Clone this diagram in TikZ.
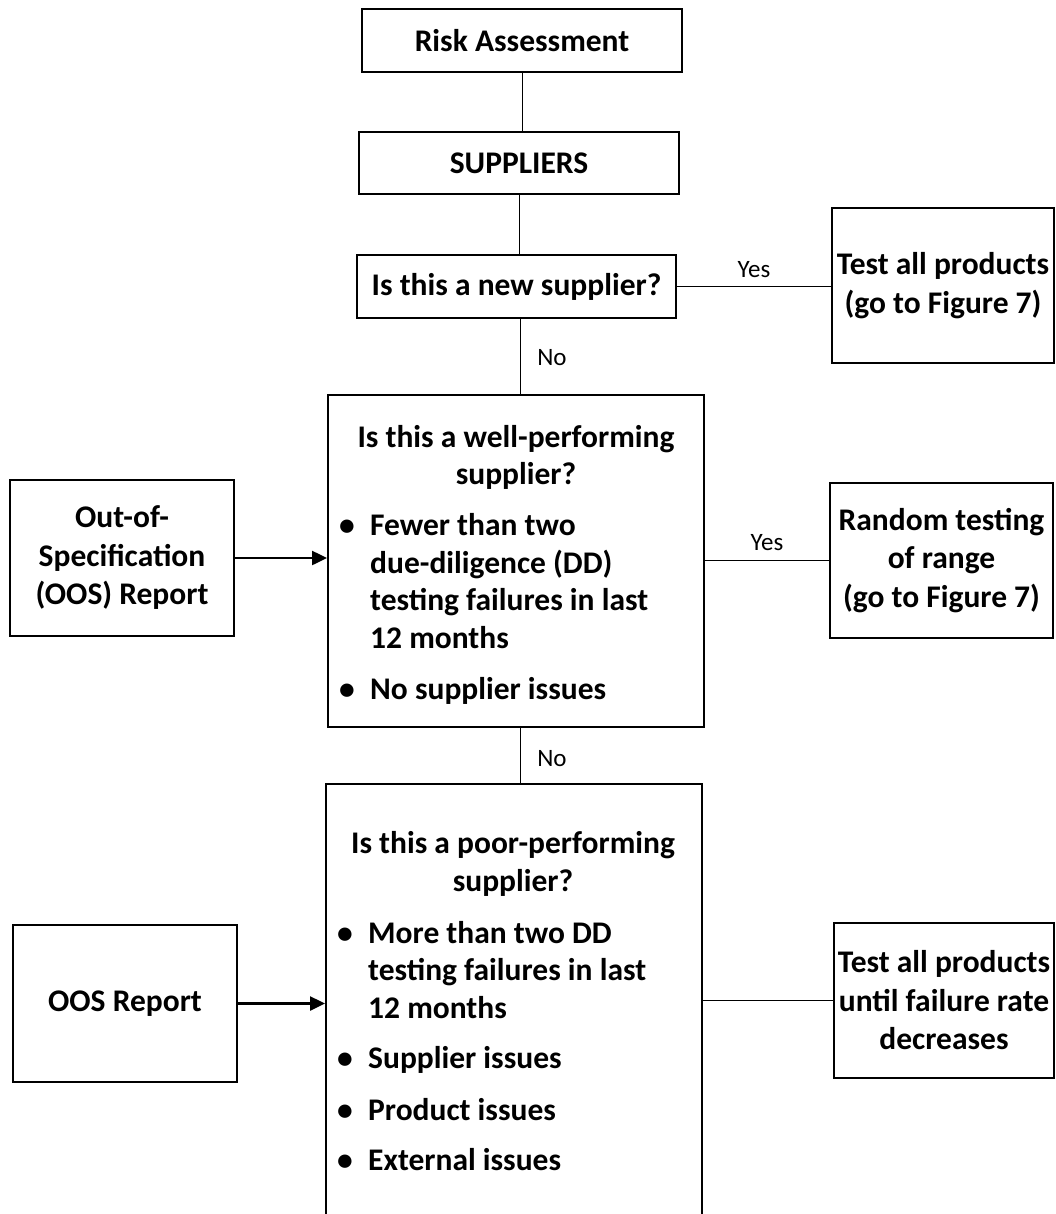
\documentclass[tikz,border=0pt]{standalone}
\usepackage{fontspec}
\setmainfont{Carlito}
\usetikzlibrary{arrows.meta}
\begin{document}
\begin{tikzpicture}[x=1pt,y=-1pt,
  box/.style={draw, line width=2pt, inner sep=0pt, align=center,
    font=\bfseries\fontsize{31.5}{38.5}\selectfont},
  conn/.style={line width=1pt},
  arr/.style={line width=2.5pt, -{Triangle[length=15pt,width=14pt]}},
  lbl/.style={inner sep=0pt, font=\fontsize{25}{30}\selectfont},
  txtc/.style={inner sep=0pt, anchor=base, font=\bfseries\fontsize{31.5}{38.5}\selectfont},
  txtl/.style={inner sep=0pt, anchor=base west, font=\bfseries\fontsize{31.5}{38.5}\selectfont}]
\useasboundingbox (0,0) rectangle (1055,1214);
\clip (0,0) rectangle (1055,1214);
\coordinate (spine) at (520,0);
% boxes
\node[box, minimum width=320pt, minimum height=63pt] (ra) at (522,40.5) {Risk Assessment};
\node[box, minimum width=320pt, minimum height=62pt] (sup) at (519,163) {SUPPLIERS};
\node[box, minimum width=319pt, minimum height=63pt] (ns) at (516.5,286.5) {Is this a new supplier?};
\node[box, minimum width=222pt, minimum height=155pt] (tp) at (943,285.5) {Test all products\\(go to Figure 7)};
\node[box, minimum width=376pt, minimum height=332pt] (wp) at (516,561) {};
\node[box, minimum width=224pt, minimum height=156pt] (oos1) at (122,558) {Out-of-\\Specification\\(OOS) Report};
\node[box, minimum width=223pt, minimum height=155pt] (rt) at (941.5,560.5) {Random testing\\of range\\(go to Figure 7)};
\node[box, minimum width=376pt, minimum height=456pt] (pp) at (514,1012) {};
\node[box, minimum width=224pt, minimum height=157pt] (oos2) at (125,1003.5) {OOS Report};
\node[box, minimum width=220pt, minimum height=155pt] (ta) at (944,1000.5) {Test all products\\until failure rate\\decreases};
% well-performing text
\node[txtc] (w1) at (516,447) {Is this a well-performing};
\node[txtc] (w2) at (516,484) {supplier?};
\node[txtl] (w3) at (339,535) {\makebox[31pt][l]{•}Fewer than two};
\node[txtl] (w4) at (370,573) {due-diligence (DD)};
\node[txtl] (w5) at (370,610) {testing failures in last};
\node[txtl] (w6) at (370,648) {12 months};
\node[txtl] (w7) at (339,699) {\makebox[31pt][l]{•}No supplier issues};
% poor-performing text
\node[txtc] (p1) at (513,853) {Is this a poor-performing};
\node[txtc] (p2) at (513,891) {supplier?};
\node[txtl] (p3) at (337,943) {\makebox[31pt][l]{•}More than two DD};
\node[txtl] (p4) at (368,980) {testing failures in last};
\node[txtl] (p5) at (368,1018) {12 months};
\node[txtl] (p6) at (337,1068) {\makebox[31pt][l]{•}Supplier issues};
\node[txtl] (p7) at (337,1120) {\makebox[31pt][l]{•}Product issues};
\node[txtl] (p8) at (337,1170) {\makebox[31pt][l]{•}External issues};
% connectors
\draw[conn] (ra.south) -- (ra.south |- sup.north);
\draw[conn] (sup.south) -- (sup.south |- ns.north);
\draw[conn] (spine |- ns.south) -- (spine |- wp.north);
\draw[conn] (spine |- wp.south) -- (spine |- pp.north);
\draw[conn] (ns.east) -- (ns.east -| tp.west);
\draw[conn] (wp.east |- rt.west) -- (rt.west);
\draw[conn] (pp.east |- ta.west) -- (ta.west);
\draw[arr] (oos1.east) -- (oos1.east -| wp.west);
\draw[arr] (oos2.east) -- (oos2.east -| pp.west);
% labels
\node[lbl] (y1) at (754,270) {Yes};
\node[lbl] (y2) at (767,543) {Yes};
\node[lbl] (n1) at (552,358) {No};
\node[lbl] (n2) at (552,759) {No};
\end{tikzpicture}
\end{document}
